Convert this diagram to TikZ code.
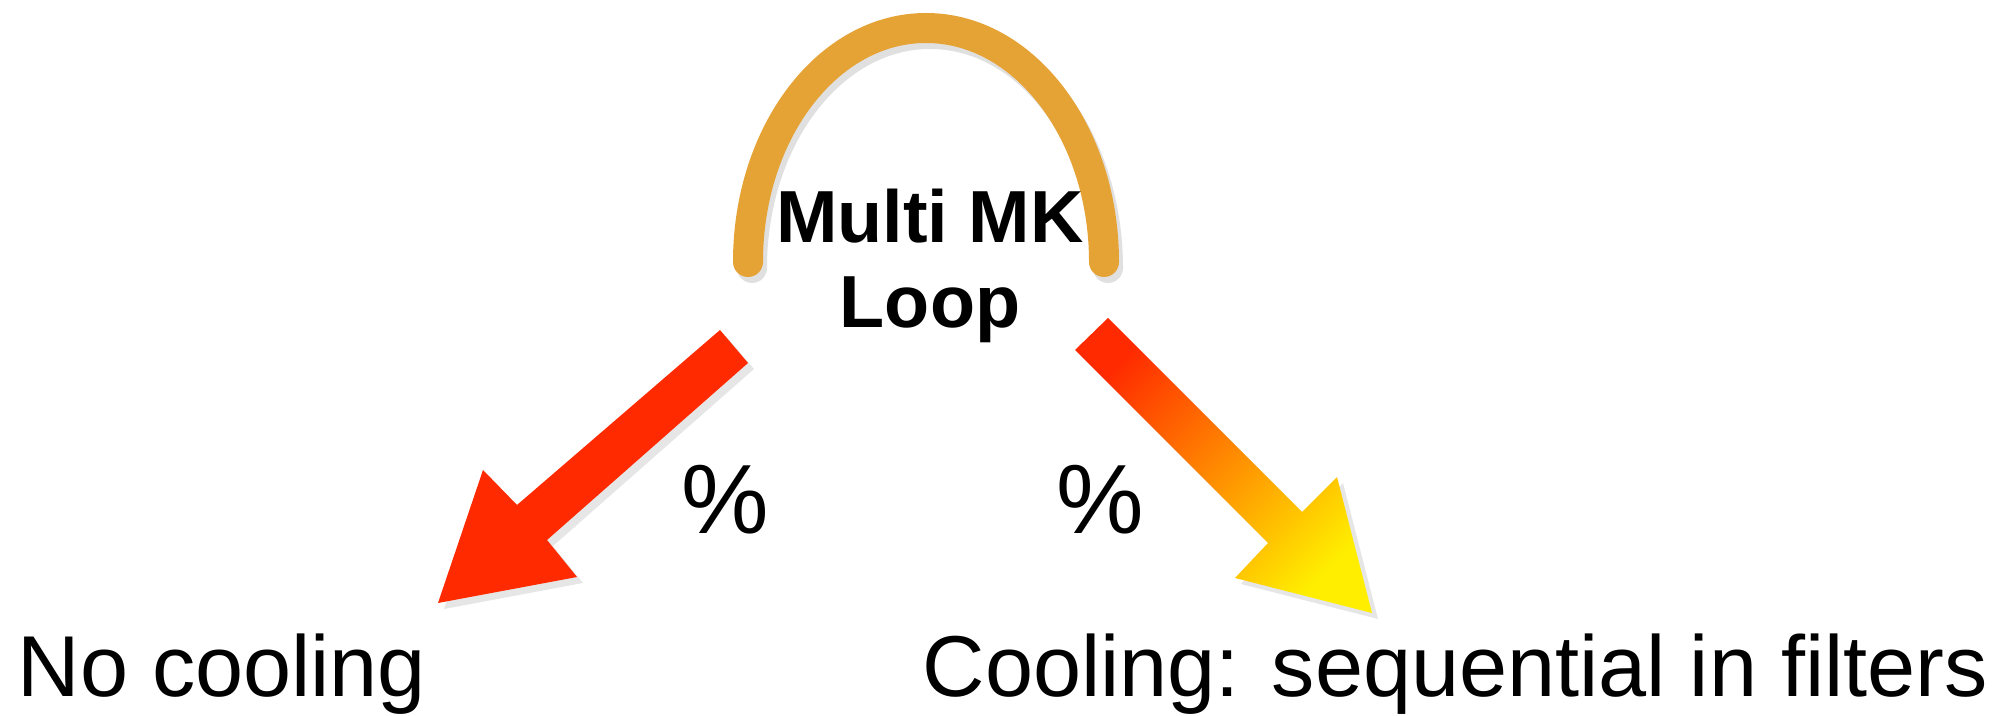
\documentclass[tikz,border=0pt]{standalone}
\usepackage{fontspec}
\setmainfont{Liberation Sans}
\usepackage{tikz}
\usetikzlibrary{positioning}
\usetikzlibrary{shadows}

\definecolor{loopgold}{RGB}{229,163,53}
\definecolor{arrowred}{RGB}{255,42,0}
\definecolor{arrowyellow}{RGB}{255,238,0}

\begin{document}
\begin{tikzpicture}[x=0.1mm, y=-0.1mm]

\tikzset{loop line/.style={
		draw=loopgold,
		line width=3mm,
		line cap=round
	},
	fat arrow/.style={
		drop shadow={opacity=0.2, shadow xshift=0.6mm, shadow yshift=-0.6mm},
		draw=none
	},
	percent/.style={font=\fontsize{28}{30}\selectfont, inner sep=0pt},
	result/.style={font=\fontsize{24.6}{28}\selectfont, inner sep=0pt}
}
\useasboundingbox (0,0) rectangle (2004,716);

%the loop
\draw[loop line, draw=black, opacity=0.12] (752,268) arc[start angle=180, end angle=0, x radius=17.8mm, y radius=23.4mm];
\draw[loop line] (748,262) arc[start angle=180, end angle=0, x radius=17.8mm, y radius=23.4mm];
\node[font=\bfseries\fontsize{21}{24}\selectfont, align=center, inner sep=0pt] (loop) at (930,266) {Multi MK\\Loop};

%arrows
\fill[fat arrow, arrowred] (720,330) -- (748,363) -- (547,540) -- (577,577) -- (438,603)
	-- (483,470) -- (517,505) -- cycle;
\shade[fat arrow, top color=arrowred, bottom color=arrowyellow, shading angle=45]
	(1108,318) -- (1302,512) -- (1337,477) -- (1372,613) -- (1235,578) -- (1268,543)
	-- (1075,350) -- cycle;

\node[percent] (pctL) at (725,500) {\%};
\node[percent] (pctR) at (1100,500) {\%};

\node[result, anchor=base west] (nocool) at (17,697) {No cooling};
\node[result, anchor=base west] (cool) at (922,697) {Cooling: sequential in filters};
\end{tikzpicture}
\end{document}
